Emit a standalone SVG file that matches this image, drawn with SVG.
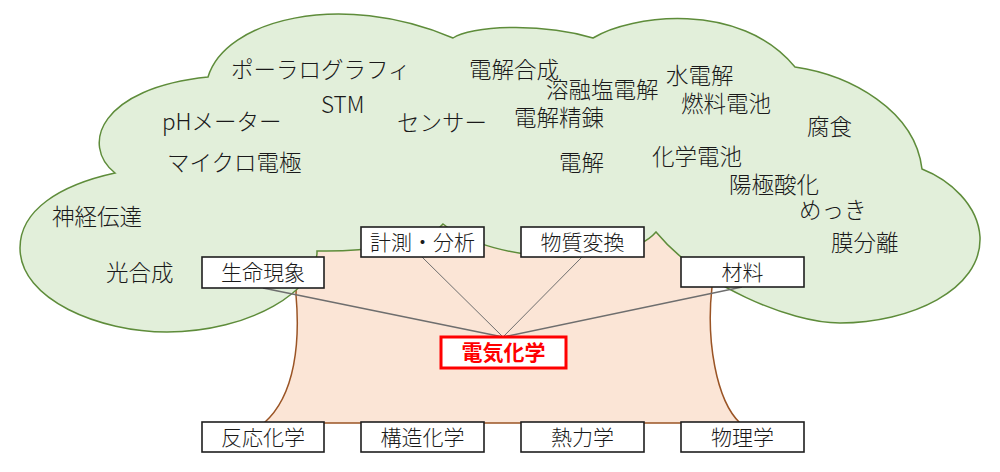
<svg xmlns="http://www.w3.org/2000/svg" width="1000" height="472" viewBox="0 0 1000 472">
<style>
.cl{font-family:"Noto Sans CJK JP","Noto Sans",sans-serif;font-size:22.5px;font-weight:300;fill:#1a1a1a}
.bx{fill:#fff;stroke:#1f1f1f;stroke-width:1.6}
.bt{font-family:"Noto Sans CJK JP","Noto Sans",sans-serif;font-size:21px;font-weight:300;fill:#1a1a1a;text-anchor:middle}
.cn{stroke:#6e6e6e;fill:none}
</style>
<rect width="1000" height="472" fill="#fff"/>
<g id="trunk">
<path d="M298,200 L296,295 C300,340 296,395 264,423 L740,423 C716,400 706,340 712,287 L712,200 Z" fill="#FBE5D6" stroke="#9A5425" stroke-width="1.5"/>
</g>
<g id="cloud">
<path d="M115,173 C80,145 100,88 208,77 C225,20 340,-10 453,38 C470,26 540,22 593,38 C630,15 740,0 795,67 C850,75 915,110 922,169 C950,180 978,205 980,237 C982,290 910,323 840,323 C790,323 700,285 656,232 C625,268 495,265 443,224 C425,245 360,252 317,251 C318,290 250,332 167,332 C100,332 20,300 20,248 C20,210 60,185 115,173 Z" fill="#E2EFDA" stroke="#5E8C3A" stroke-width="1.5"/>
<text class="cl" x="231" y="78">ポーラログラフィ</text>
<text class="cl" x="321" y="113">STM</text>
<text class="cl" x="162" y="130">pHメーター</text>
<text class="cl" x="397" y="131">センサー</text>
<text class="cl" x="167" y="171">マイクロ電極</text>
<text class="cl" x="52" y="225">神経伝達</text>
<text class="cl" x="106" y="281">光合成</text>
<text class="cl" x="469" y="78">電解合成</text>
<text class="cl" x="546" y="98">溶融塩電解</text>
<text class="cl" x="666" y="84">水電解</text>
<text class="cl" x="681" y="112">燃料電池</text>
<text class="cl" x="514" y="126">電解精錬</text>
<text class="cl" x="807" y="135">腐食</text>
<text class="cl" x="559" y="171">電解</text>
<text class="cl" x="652" y="165">化学電池</text>
<text class="cl" x="729" y="193">陽極酸化</text>
<text class="cl" x="799" y="218">めっき</text>
<text class="cl" x="831" y="251">膜分離</text>
</g>
<g id="connectors">
<line class="cn" x1="263" y1="288" x2="503" y2="337" stroke-width="1.5" stroke="#7a7a7a"/>
<line class="cn" x1="422" y1="257" x2="503" y2="337" stroke-width="1"/>
<line class="cn" x1="582" y1="257" x2="503" y2="337" stroke-width="1"/>
<line class="cn" x1="742" y1="287" x2="503" y2="337" stroke-width="1.5" stroke="#7a7a7a"/>
</g>
<g id="n-keisoku"><rect class="bx" x="361" y="227" width="123" height="30"/><text class="bt" x="422.5" y="250">計測・分析</text></g>
<g id="n-busshitsu"><rect class="bx" x="521" y="227" width="123" height="30"/><text class="bt" x="582.5" y="250">物質変換</text></g>
<g id="n-seimei"><rect class="bx" x="202" y="257" width="122" height="31"/><text class="bt" x="263" y="280">生命現象</text></g>
<g id="n-zairyo"><rect class="bx" x="681" y="257" width="123" height="30"/><text class="bt" x="742.5" y="280">材料</text></g>
<g id="n-denki"><rect x="441" y="337" width="125" height="31" fill="#fff" stroke="#FF0000" stroke-width="3"/><text class="bt" x="503.5" y="360" style="fill:#FF0000;font-weight:bold">電気化学</text></g>
<g id="n-hanno"><rect class="bx" x="202" y="422" width="122" height="30"/><text class="bt" x="263" y="445">反応化学</text></g>
<g id="n-kozo"><rect class="bx" x="361" y="422" width="123" height="30"/><text class="bt" x="422.5" y="445">構造化学</text></g>
<g id="n-netsu"><rect class="bx" x="521" y="422" width="123" height="30"/><text class="bt" x="582.5" y="445">熱力学</text></g>
<g id="n-butsuri"><rect class="bx" x="681" y="422" width="123" height="30"/><text class="bt" x="742.5" y="445">物理学</text></g>
</svg>
